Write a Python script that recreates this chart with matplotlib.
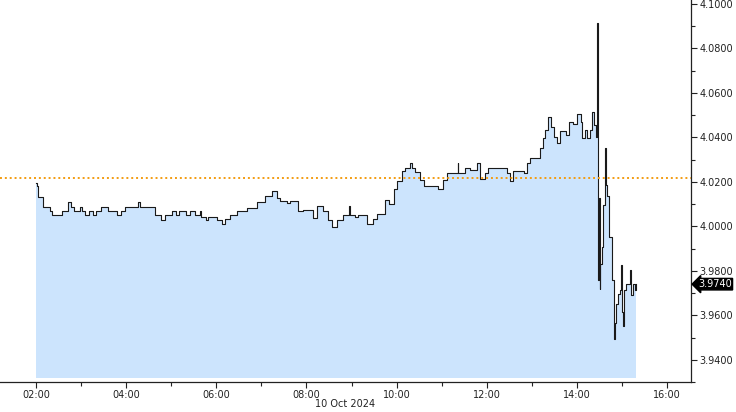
import matplotlib
matplotlib.use("Agg")
import matplotlib.pyplot as plt
import matplotlib.dates as mdates
import pandas as pd

# minutes after 02:00 on 10 Oct 2024, and the yield from that minute on
minutes = [
    0, 1, 3, 9, 18, 21, 34, 42, 46, 51, 59, 61, 65, 70, 76, 80, 87, 96,
    108, 113, 118, 136, 138, 158, 167, 172, 181, 186, 190, 200, 205, 212,
    218, 220, 226, 229, 241, 248, 252, 258, 267, 281, 294, 305, 314, 321,
    325, 334, 338, 349, 356, 369, 374, 382, 389, 394, 401, 409, 416, 418,
    424, 429, 441, 448, 454, 465, 470, 476, 481, 487, 491, 498, 500, 505,
    511, 516, 535, 542, 547, 561, 562, 571, 578, 587, 591, 598, 602, 627,
    631, 635, 649, 654, 658, 671, 675, 678, 682, 685, 689, 694, 698, 705,
    709, 715, 720, 725, 727, 731, 734, 738, 740, 742, 745, 747, 748, 749,
    750, 751, 753, 755, 757, 758, 760, 763, 767, 769, 770, 772, 774, 777,
    779, 780, 781, 783, 785, 791, 792, 794, 797, 799,
]
yields = [
    4.0196, 4.0180, 4.0133, 4.0089, 4.0071, 4.0050, 4.0071, 4.0111, 4.0089,
    4.0071, 4.0089, 4.0071, 4.0050, 4.0071, 4.0050, 4.0071, 4.0089, 4.0071,
    4.0050, 4.0071, 4.0089, 4.0111, 4.0089, 4.0050, 4.0028, 4.0050, 4.0071,
    4.0050, 4.0071, 4.0050, 4.0071, 4.0050, 4.0071, 4.0044, 4.0028, 4.0044,
    4.0028, 4.0010, 4.0035, 4.0049, 4.0071, 4.0084, 4.0111, 4.0136, 4.0159,
    4.0129, 4.0116, 4.0107, 4.0116, 4.0067, 4.0072, 4.0036, 4.0093, 4.0071,
    4.0027, 3.9996, 4.0027, 4.0053, 4.0093, 4.0053, 4.0040, 4.0049, 4.0010,
    4.0032, 4.0055, 4.0117, 4.0099, 4.0166, 4.0203, 4.0248, 4.0262, 4.0284,
    4.0262, 4.0244, 4.0210, 4.0181, 4.0166, 4.0210, 4.0240, 4.0284, 4.0240,
    4.0262, 4.0253, 4.0284, 4.0215, 4.0240, 4.0262, 4.0240, 4.0206, 4.0250,
    4.0240, 4.0284, 4.0307, 4.0351, 4.0396, 4.0432, 4.0493, 4.0449, 4.0404,
    4.0373, 4.0427, 4.0410, 4.0471, 4.0460, 4.0507, 4.0471, 4.0396, 4.0432,
    4.0396, 4.0432, 4.0516, 4.0455, 4.0404, 4.0916, 3.9760, 4.0129, 3.9720,
    3.9831, 3.9907, 4.0098, 4.0351, 4.0187, 4.0138, 3.9951, 3.9760, 3.9493,
    3.9564, 3.9653, 3.9698, 3.9716, 3.9827, 3.9613, 3.9551, 3.9716, 3.9742,
    3.9804, 3.9693, 3.9742, 3.9716, 3.9740,
]
ref_level = 4.0217
last_label = "3.9740"
date_label = "10 Oct 2024"

start = pd.Timestamp("2024-10-10 02:00")
times = start + pd.to_timedelta(minutes, unit="min")

fig = plt.figure(figsize=(7.36, 4.12), dpi=100)
ax = fig.add_axes([0.0, 0.0728, 0.939, 0.9272])

y_bottom, y_top = 3.9320, 4.1018
ax.fill_between(times, yields, y_bottom, step="post", color="#cce4fd", lw=0)
ax.step(times, yields, where="post", color="#1a1a1a", lw=0.8)
ax.axhline(ref_level, color="#f39c12", lw=1.4, ls=(0, (1, 1.5)))

ax.set_ylim(y_bottom, y_top)
ax.set_xlim(start - pd.Timedelta(minutes=47.9), start + pd.Timedelta(minutes=871.9))

ax.xaxis.set_major_locator(mdates.HourLocator(byhour=range(0, 24, 2)))
ax.xaxis.set_minor_locator(mdates.HourLocator(byhour=range(1, 24, 2)))
ax.xaxis.set_major_formatter(mdates.DateFormatter("%H:%M"))

ax.yaxis.tick_right()
ax.set_yticks([3.94 + 0.02 * i for i in range(9)])
ax.set_yticks([3.93 + 0.02 * i for i in range(9)], minor=True)
ax.yaxis.set_major_formatter(matplotlib.ticker.FormatStrFormatter("%.4f"))

for side in ("top", "left"):
    ax.spines[side].set_visible(False)
for side in ("bottom", "right"):
    ax.spines[side].set_color("#222222")
    ax.spines[side].set_linewidth(0.9)

ax.tick_params(axis="both", which="major", labelsize=7, length=4, width=0.8,
               color="#222222", labelcolor="#222222", pad=2)
ax.tick_params(axis="both", which="minor", length=3, width=0.8, color="#222222")

ax.text(0.5, -0.058, date_label, transform=ax.transAxes, ha="center", va="center",
        fontsize=7, color="#222222")

ax.annotate(last_label, xy=(1.0, 3.9740), xycoords=("axes fraction", "data"),
            xytext=(5, 0), textcoords="offset points", ha="left", va="center",
            fontsize=7, color="white",
            bbox=dict(boxstyle="larrow,pad=0.08", fc="black", ec="black"))

fig.savefig("out.png", dpi=100)
